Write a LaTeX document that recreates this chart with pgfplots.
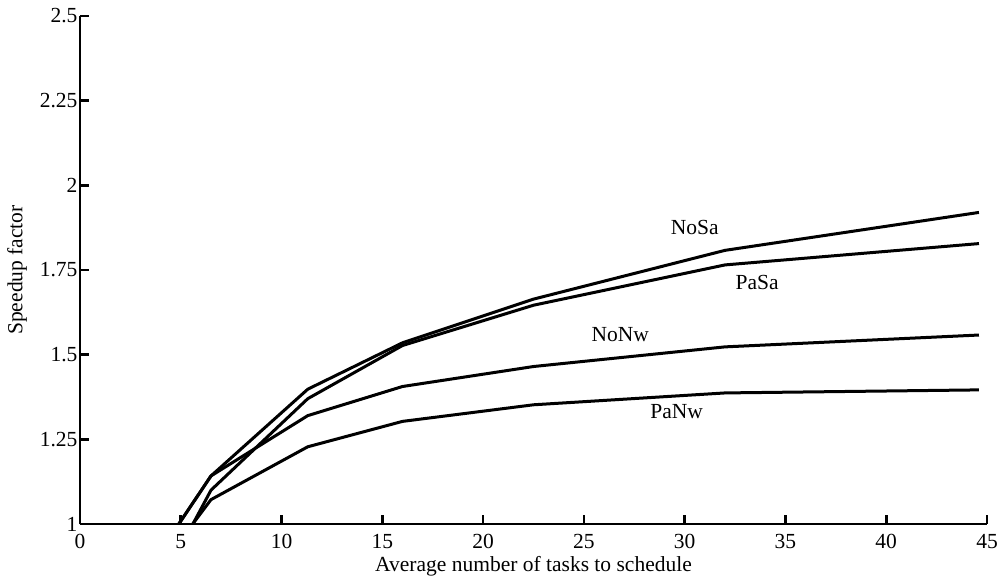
\documentclass[border=0pt]{standalone}
\usepackage{pgfplots}
\pgfplotsset{compat=1.18}
\usepackage{fontspec}
\setmainfont{Liberation Serif}
\newcommand{\ff}{\fontsize{21.5}{25}\selectfont}
\begin{document}
\begin{tikzpicture}[x=1pt,y=1pt]
\begin{axis}[
  scale only axis,
  width=907pt, height=508pt,
  xmin=0, xmax=45, ymin=1, ymax=2.5,
  axis lines*=left,
  axis line style={line width=2.6pt,-},
  tick style={line width=2.6pt,black},
  major tick length=9pt,
  tick align=inside,
  xtick={0,5,...,45},
  ytick={1,1.25,1.5,1.75,2,2.25,2.5},
  yticklabels={1,1.25,1.5,1.75,2,2.25,2.5},
  xticklabel style={font=\ff, yshift=-7pt},
  yticklabel style={font=\ff, xshift=1pt},
  /pgf/number format/assume math mode=true,
  xlabel={Average number of tasks to schedule},
  ylabel={Speedup factor},
  label style={font=\ff},
  xlabel style={yshift=0pt},
  ylabel style={yshift=6pt},
  clip=true,
]
% NoSa
\addplot[black, line width=3pt] coordinates {(4.0,0.92) (6.5,1.142) (11.3,1.398) (16,1.535) (22.5,1.664) (32,1.808) (44.6,1.920)};
% PaSa
\addplot[black, line width=3pt] coordinates {(5.0,0.933) (6.5,1.100) (11.3,1.370) (16,1.527) (22.5,1.646) (32,1.765) (44.6,1.828)};
% NoNw
\addplot[black, line width=3pt] coordinates {(4.0,0.92) (6.5,1.142) (11.3,1.320) (16,1.406) (22.5,1.465) (32,1.523) (44.6,1.558)};
% PaNw
\addplot[black, line width=3pt] coordinates {(5.0,0.953) (6.5,1.072) (11.3,1.228) (16,1.303) (22.5,1.352) (32,1.387) (44.6,1.396)};
\node[font=\ff] at (axis cs:30.5,1.877) {NoSa};
\node[font=\ff] at (axis cs:33.6,1.714) {PaSa};
\node[font=\ff] at (axis cs:26.8,1.558) {NoNw};
\node[font=\ff] at (axis cs:29.6,1.331) {PaNw};
\end{axis}
\pgfresetboundingbox
\path ([shift={(-80pt,-55pt)}]current axis.south west) rectangle ([shift={(16pt,16pt)}]current axis.north east);
\end{tikzpicture}
\end{document}
